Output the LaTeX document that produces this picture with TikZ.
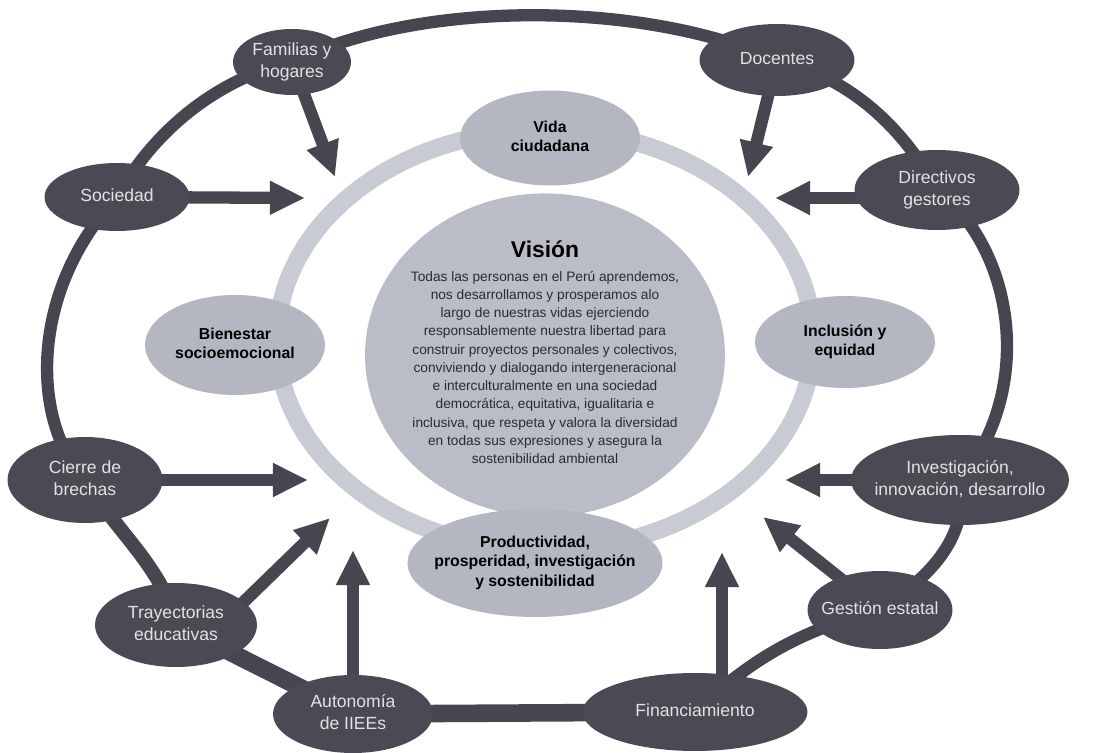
\documentclass[tikz,border=0pt]{standalone}
\usepackage{fontspec}
\setmainfont{Liberation Sans}
\usetikzlibrary{shapes.geometric,arrows.meta,backgrounds}

\definecolor{actorgray}{RGB}{74,74,84}
\definecolor{linkgray}{RGB}{70,70,80}
\definecolor{goalgray}{RGB}{180,182,193}
\definecolor{visgray}{RGB}{186,188,199}
\definecolor{ringgray}{RGB}{200,202,212}
\definecolor{paleword}{RGB}{226,226,226}
\definecolor{inkgray}{RGB}{42,42,54}

\newcommand{\zw}[1]{\makebox[0pt]{\begin{tabular}{@{}c@{}}#1\end{tabular}}}

\begin{document}
\begin{tikzpicture}[x=0.02cm,y=-0.02cm]
\tikzstyle{actor}=[ellipse,fill=actorgray,inner sep=0pt,text=paleword,font=\fontsize{10}{12.5}\selectfont];
\tikzstyle{goal}=[ellipse,fill=goalgray,inner sep=0pt,text=black,font=\bfseries\fontsize{9}{11}\selectfont];
\tikzstyle{vision}=[ellipse,fill=visgray,inner sep=0pt,text=inkgray,font=\fontsize{7.8}{10.4}\selectfont];
\tikzstyle{link}=[draw=linkgray,line width=7pt];
\tikzstyle{push}=[draw=linkgray,line width=7pt,-{Triangle[width=18pt,length=20pt]}];

\useasboundingbox (0,0) rectangle (1102,753);

% outer actors
\node[actor,minimum width=2.36cm,minimum height=1.32cm] (fam) at (292,62) {\zw{Familias y\\hogares}};
\node[actor,minimum width=3.1cm,minimum height=1.44cm] (doc) at (777,60) {\zw{Docentes}};
\node[actor,minimum width=3.3cm,minimum height=1.6cm] (dir) at (937,190) {\zw{Directivos\\gestores}};
\node[actor,minimum width=2.9cm,minimum height=1.36cm] (soc) at (117,197) {\zw{Sociedad}};
\node[actor,minimum width=3.1cm,minimum height=1.72cm] (cie) at (85,480) {\zw{Cierre de\\brechas}};
\node[actor,minimum width=4.36cm,minimum height=1.8cm] (inv) at (960,480) {\zw{Investigación,\\innovación, desarrollo}};
\node[actor,minimum width=3.24cm,minimum height=1.68cm] (tra) at (176,625) {\zw{Trayectorias\\educativas}};
\node[actor,minimum width=2.9cm,minimum height=1.56cm] (ges) at (880,610) {\zw{Gestión estatal}};
\node[actor,minimum width=3.2cm,minimum height=1.56cm] (aut) at (353,714) {\zw{Autonomía\\de IIEEs}};
\node[actor,minimum width=4.5cm,minimum height=1.56cm] (fin) at (695,712) {\zw{Financiamiento}};

% inner goals
\node[goal,minimum width=3.6cm,minimum height=1.9cm] (vida) at (550,138) {\zw{Vida\\ciudadana}};
\node[goal,minimum width=3.6cm,minimum height=2cm] (bie) at (235,345) {\zw{Bienestar\\socioemocional}};
\node[goal,minimum width=3.6cm,minimum height=1.84cm] (inc) at (845,342) {\zw{Inclusión y\\equidad}};
\node[vision,minimum width=7.2cm,minimum height=6.4cm] (vis) at (545,355) {\zw{{\color{black}\bfseries\fontsize{13}{16}\selectfont Visión}\\[3pt]
Todas las personas en el Perú aprendemos,\\
nos desarrollamos y prosperamos alo\\
largo de nuestras vidas ejerciendo\\
responsablemente nuestra libertad para\\
construir proyectos personales y colectivos,\\
conviviendo y dialogando intergeneracional\\
e interculturalmente en una sociedad\\
democrática, equitativa, igualitaria e\\
inclusiva, que respeta y valora la diversidad\\
en todas sus expresiones y asegura la\\
sostenibilidad ambiental}};
\node[goal,minimum width=5.1cm,minimum height=2.16cm] (pro) at (535,563) {\zw{Productividad,\\prosperidad, investigación\\y sostenibilidad}};

% arrow tips
\coordinate (tfam) at (335,177);
\coordinate (tsoc) at (305,198);
\coordinate (tdoc) at (748,177);
\coordinate (tdir) at (775,198);
\coordinate (tcie) at (308,480);
\coordinate (ttra) at (330,518);
\coordinate (taut) at (353,550);
\coordinate (tfin) at (722,552);
\coordinate (tges) at (763,517);
\coordinate (tinv) at (785,480);

\begin{scope}[on background layer]
% light ring
\draw[ringgray,line width=10pt] (545,340) ellipse [x radius=268,y radius=210];
% outer ring
\draw[link] (fam.center) .. controls (420,0) and (640,0) .. (doc.center);
\draw[link] (doc.center) .. controls (860,80) and (910,140) .. (dir.center);
\draw[link] (dir.center) .. controls (1015,250) and (1035,390) .. (inv.center);
\draw[link] (inv.center) .. controls (970,540) and (925,580) .. (ges.center);
\draw[link] (ges.center) .. controls (800,630) and (750,660) .. (fin.center);
\draw[link,line width=10pt] (fin.center) -- (aut.center);
\draw[link,line width=10pt] (aut.center) -- (tra.center);
\draw[link,line width=8pt] (tra.center) .. controls (165,570) and (115,530) .. (cie.center);
\draw[link] (cie.center) .. controls (30,420) and (30,290) .. (soc.center);
\draw[link] (soc.center) .. controls (160,120) and (230,75) .. (fam.center);
% arrows
\draw[push] (fam.center) -- (tfam);
\draw[push] (soc.center) -- (tsoc);
\draw[push] (doc.center) -- (tdoc);
\draw[push] (tdir -| dir.center) -- (tdir);
\draw[push] (cie.center) -- (tcie);
\draw[push] ([xshift=25pt]tra.center) -- (ttra);
\draw[push] (aut.center) -- (taut);
\draw[push] (tfin |- fin.center) -- (tfin);
\draw[push] (ges.center) -- (tges);
\draw[push] (inv.center) -- (tinv);
\end{scope}
\end{tikzpicture}
\end{document}
